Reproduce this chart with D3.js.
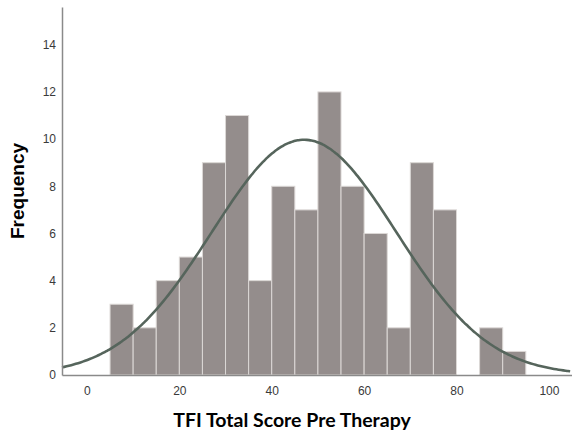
<!DOCTYPE html>
<html><head><meta charset="utf-8">
<script src="https://cdn.jsdelivr.net/npm/d3@7"></script>
<style>body{margin:0;background:#fff}svg{display:block}</style>
</head><body>
<svg id="c" width="572" height="439"></svg>
<script>
const binStarts = [5,10,15,20,25,30,35,40,45,50,55,60,65,70,75,80,85,90];
const counts    = [3,2,4,5,9,11,4,8,7,12,8,6,2,9,7,0,2,1];
const binWidth = 5;
const xTicks = [0,20,40,60,80,100];
const yTicks = [0,2,4,6,8,10,12,14];
const fitMean = 47;
const fitSD = 20;
const total = 100;

const svg = d3.select("#c");
const x = d3.scaleLinear().domain([-5.4,105]).range([62,572]);
const y = d3.scaleLinear().domain([0,15.6]).range([375,7]);

svg.selectAll("rect.bar").data(binStarts.map((s,i)=>({s,c:counts[i]})).filter(d=>d.c>0))
  .enter().append("rect")
  .attr("x",d=>x(d.s)).attr("width",d=>x(d.s+binWidth)-x(d.s))
  .attr("y",d=>y(d.c)).attr("height",d=>y(0)-y(d.c))
  .attr("fill","#948d8c").attr("stroke","#dcd8d6").attr("stroke-width",1);

const pts = d3.range(-5.4,105.01,0.5).map(v=>[v,total*binWidth*Math.exp(-0.5*((v-fitMean)/fitSD)**2)/(fitSD*Math.sqrt(2*Math.PI))]);
svg.append("path").datum(pts)
  .attr("d",d3.line().x(d=>x(d[0])).y(d=>y(d[1])).curve(d3.curveBasis))
  .attr("fill","none").attr("stroke","#56655c").attr("stroke-width",2.6);

const yAxis = svg.append("g").attr("transform","translate(62,0)")
  .call(d3.axisLeft(y).tickValues(yTicks).tickSize(0).tickPadding(6).tickFormat(d3.format("d")));
const xAxis = svg.append("g").attr("transform","translate(0,375)")
  .call(d3.axisBottom(x).tickValues(xTicks).tickSize(0).tickPadding(11).tickFormat(d3.format("d")));
[yAxis,xAxis].forEach(g=>{
  g.select(".domain").attr("stroke","#8a8a8a").attr("stroke-width",1.5);
  g.selectAll("text").attr("font-family","Liberation Sans, Arial, sans-serif").attr("font-size",12).attr("fill","#3a3a3a");
});

svg.append("text").attr("transform","translate(24,191) rotate(-90)")
  .attr("text-anchor","middle").attr("font-family","Liberation Sans, Arial, sans-serif")
  .attr("font-weight","bold").attr("font-size",19).attr("fill","#000").text("Frequency");
svg.append("text").attr("x",292).attr("y",427)
  .attr("text-anchor","middle").attr("font-family","Lato, sans-serif")
  .attr("font-weight","bold").attr("font-size",19.5).attr("fill","#000").text("TFI Total Score Pre Therapy");
</script>
</body></html>
